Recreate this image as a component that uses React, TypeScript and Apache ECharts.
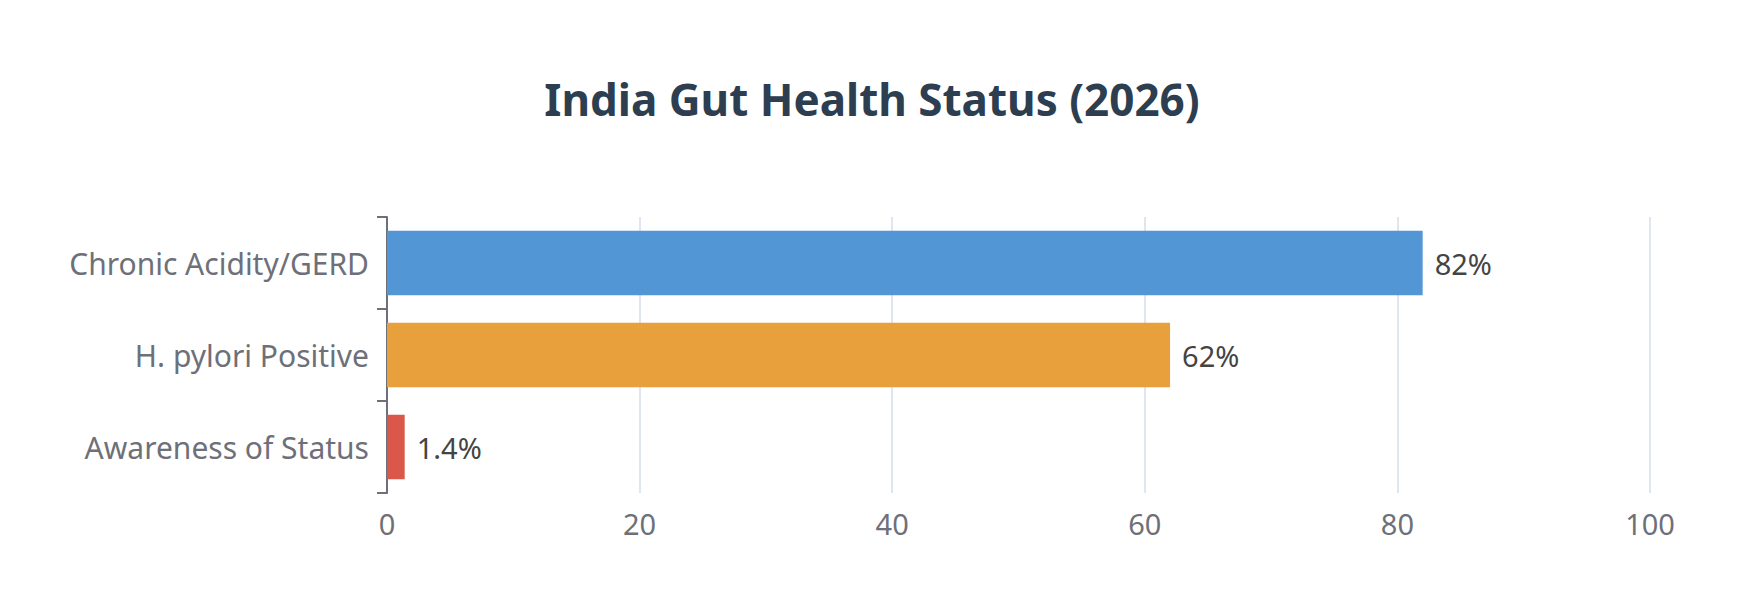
import { useEffect, useRef } from "react"
import * as echarts from "echarts"

// Chart data
const categories = ["Chronic Acidity/GERD", "H. pylori Positive", "Awareness of Status"]
const values = [82, 62, 1.4]
const barColors = ["#5296D5", "#E8A03C", "#D9584A"]
const xTicks = { min: 0, max: 100, interval: 20 }

const FONT = "'Noto Sans', 'Open Sans', sans-serif"

export default function App() {
  const chartRef = useRef<HTMLDivElement>(null)

  useEffect(() => {
    if (!chartRef.current) return
    const chart = echarts.init(chartRef.current, null, { renderer: "svg" })

    const options: echarts.EChartsOption = {
      animation: false,
      backgroundColor: "#ffffff",
      textStyle: { fontFamily: FONT },
      title: {
        text: "India Gut Health Status (2026)",
        left: "center",
        top: 72,
        textStyle: {
          fontFamily: FONT,
          fontSize: 44,
          fontWeight: "bold",
          color: "#2C3E50",
        },
      },
      grid: {
        left: 387,
        right: 94,
        top: 217,
        bottom: 101,
      },
      xAxis: {
        type: "value",
        min: xTicks.min,
        max: xTicks.max,
        interval: xTicks.interval,
        axisLabel: {
          fontSize: 29,
          margin: 16,
          color: "#6E7079",
          fontFamily: FONT,
        },
        splitLine: {
          lineStyle: { color: "#E0E6F1", width: 2 },
        },
      },
      yAxis: {
        type: "category",
        inverse: true,
        data: categories,
        axisLine: {
          show: true,
          lineStyle: { color: "#6E7079", width: 2 },
        },
        axisTick: {
          show: true,
          length: 10,
          lineStyle: { color: "#6E7079", width: 2 },
        },
        axisLabel: {
          fontSize: 30,
          margin: 18,
          color: "#6E7079",
          fontFamily: FONT,
        },
      },
      series: [
        {
          type: "bar",
          barWidth: "70%",
          data: values.map((v, i) => ({
            value: v,
            itemStyle: { color: barColors[i] },
          })),
          label: {
            show: true,
            position: "right",
            distance: 12,
            fontSize: 29,
            color: "#444",
            fontFamily: FONT,
            formatter: (p: any) => `${p.value}%`,
          },
        },
      ],
    }

    chart.setOption(options)

    return () => {
      chart.dispose()
    }
  }, [])

  return (
    <div
      ref={chartRef}
      style={{ position: "fixed", left: 0, top: 0, width: 1744, height: 594 }}
    />
  )
}
